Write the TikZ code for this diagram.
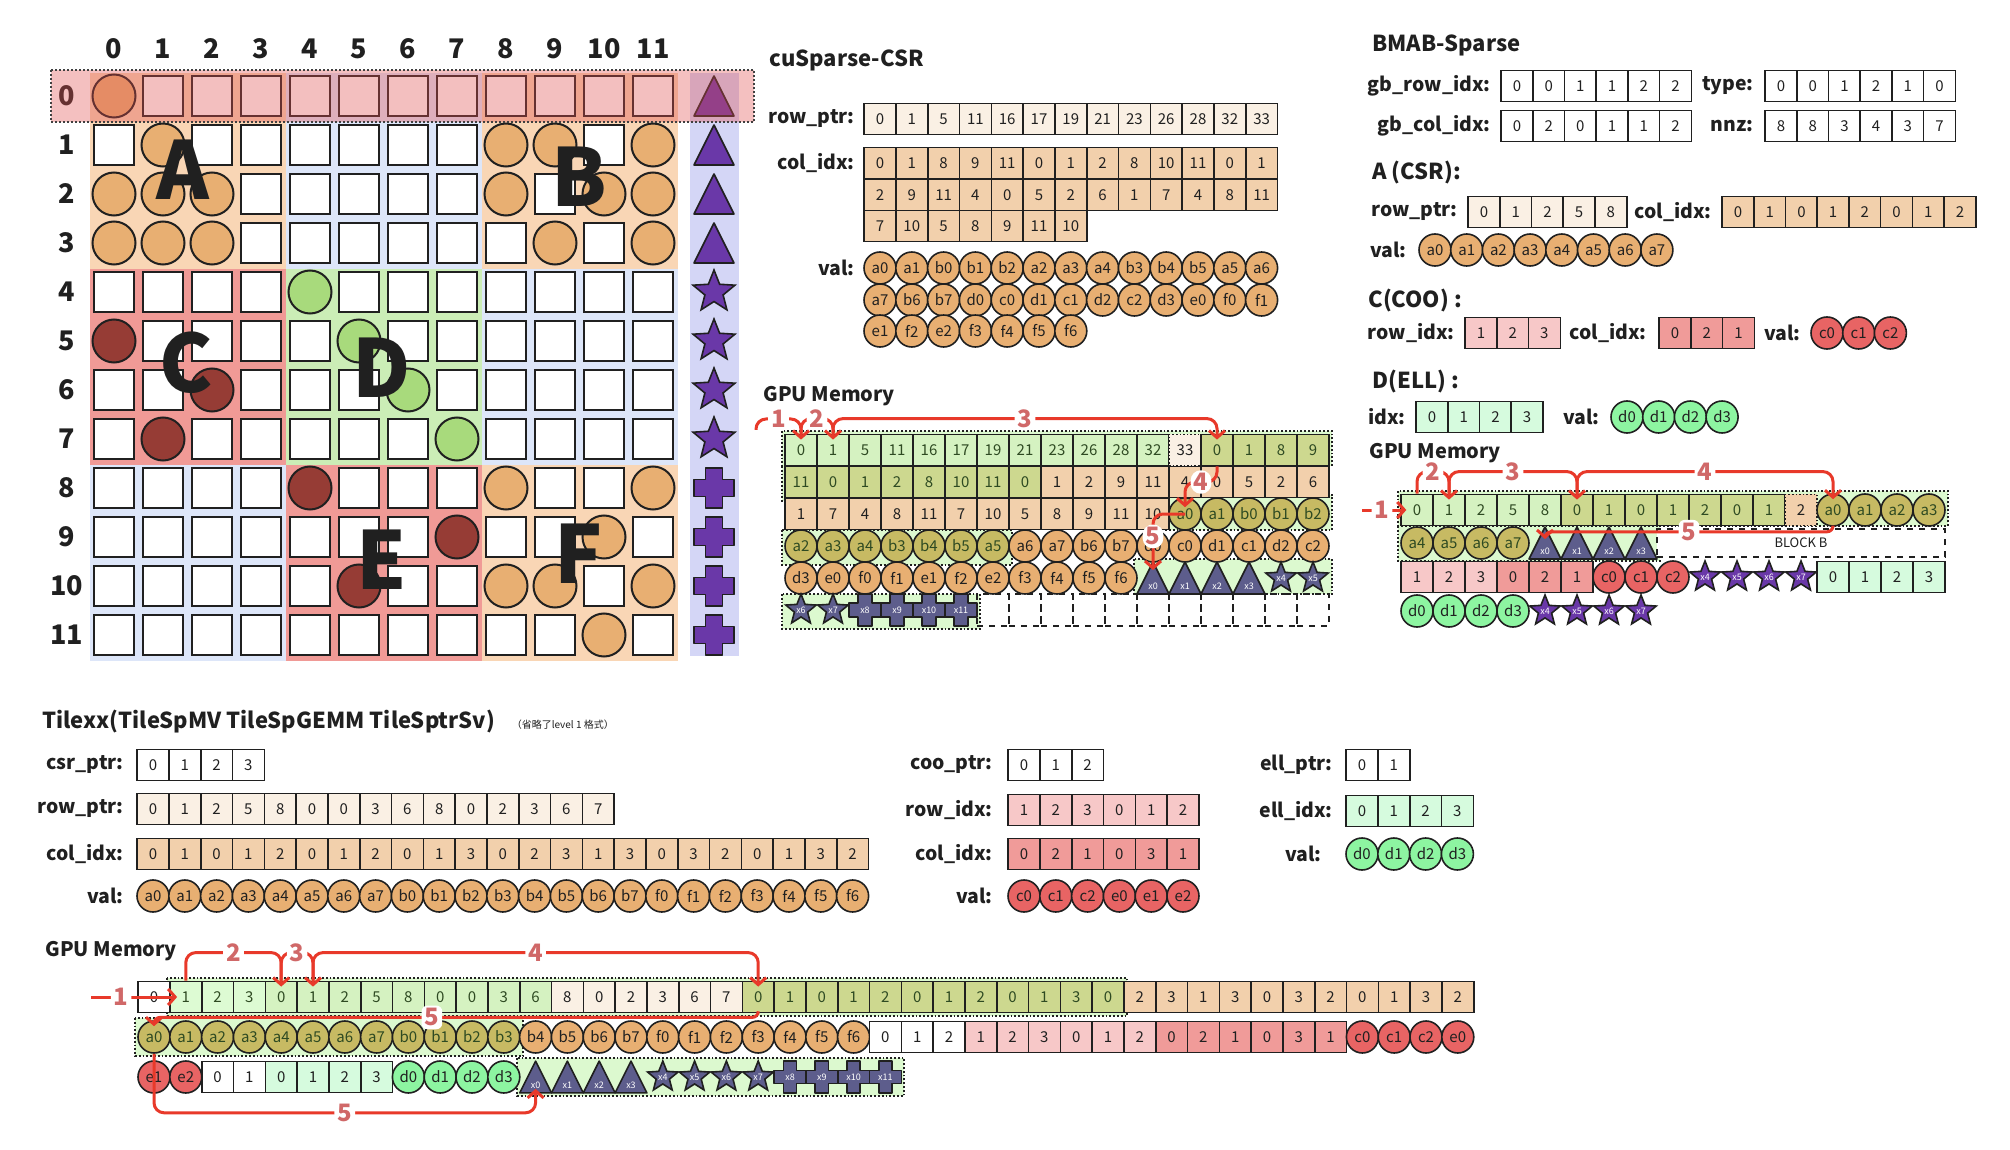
\documentclass[tikz,border=0pt]{standalone}
\usepackage{fontspec}
\setmainfont{Noto Sans CJK SC}
\usetikzlibrary{arrows.meta,positioning,shapes.geometric}
\definecolor{ink}{HTML}{202020}
\definecolor{olivetext}{HTML}{2E4A22}
\definecolor{peachbg}{HTML}{F9D6B5}
\definecolor{bluebg}{HTML}{DDE6F9}
\definecolor{redbg}{HTML}{F09A96}
\definecolor{greenbg}{HTML}{CBEDB6}
\definecolor{nzorange}{HTML}{E8AF72}
\definecolor{nzred}{HTML}{963C35}
\definecolor{nzgreen}{HTML}{A8DA7C}
\definecolor{stripbg}{HTML}{D4D6F6}
\definecolor{xpurple}{HTML}{6A38A8}
\definecolor{xslate}{HTML}{5D5D8C}
\definecolor{rowred}{HTML}{E05050}
\definecolor{ptrcell}{HTML}{FAF0E4}
\definecolor{idxcell}{HTML}{F2D0AC}
\definecolor{lgcell}{HTML}{D5F2C1}
\definecolor{mintcell}{HTML}{DDFBD3}
\definecolor{olcell}{HTML}{CDD88F}
\definecolor{olcirc}{HTML}{C7BA63}
\definecolor{hlbg}{HTML}{DCF9CF}
\definecolor{cooidx}{HTML}{F7C8C8}
\definecolor{coocol}{HTML}{F09B99}
\definecolor{coonzc}{HTML}{E86464}
\definecolor{ellidx}{HTML}{D6FBDE}
\definecolor{ellnzc}{HTML}{8DF5A1}
\definecolor{arrowred}{HTML}{E8392A}
\definecolor{stepred}{HTML}{D06868}

\newcommand{\cellfont}{\fontsize{7.5}{9}\selectfont}
\newcommand{\lblfont}{\bfseries\fontsize{9.7}{11}\selectfont}
\newcommand{\ttlfont}{\bfseries\fontsize{11}{13}\selectfont}
\newcommand{\memfont}{\bfseries\fontsize{10}{12}\selectfont}
\newcommand{\tinyfont}{\fontsize{4.5}{5}\selectfont}

% one run of memory cells: name, x of index 0, first index, y, style, entries
\newcommand{\seg}[6]{%
  \foreach \v [count=\k from #3] in {#6}
    \node[#5] (#1-\k) at ({#2+\k*\pitch},#4) {\v};}
% triangle / plus marks of the x vector: name, x, y, half size, fill, label
\newcommand{\xtri}[6]{%
  \coordinate (#1-top) at ({#2},{#3-#4});
  \coordinate (#1-bot) at ({#2},{#3+#4});
  \draw[xedge, fill=#5] ({#2-#4},{#3+#4}) -- (#1-top) -- ({#2+#4},{#3+#4}) -- cycle;
  \node[xlbl] (#1) at ({#2},{#3+0.5*#4}) {#6};}
\newcommand{\xplus}[6]{%
  \draw[xedge, fill=#5] ({#2-0.42*#4},{#3-#4}) -- ({#2+0.42*#4},{#3-#4}) -- ({#2+0.42*#4},{#3-0.42*#4})
    -- ({#2+#4},{#3-0.42*#4}) -- ({#2+#4},{#3+0.42*#4}) -- ({#2+0.42*#4},{#3+0.42*#4})
    -- ({#2+0.42*#4},{#3+#4}) -- ({#2-0.42*#4},{#3+#4}) -- ({#2-0.42*#4},{#3+0.42*#4})
    -- ({#2-#4},{#3+0.42*#4}) -- ({#2-#4},{#3-0.42*#4}) -- ({#2-0.42*#4},{#3-0.42*#4}) -- cycle;
  \node[xlbl] (#1) at ({#2},{#3}) {#6};}

\begin{document}
\begin{tikzpicture}[x=0.5pt, y=-0.5pt,
  every node/.style={inner sep=0pt},
  lbl/.style={anchor=east, font=\lblfont, text=ink},
  ttl/.style={anchor=west, font=\ttlfont, text=ink},
  memttl/.style={anchor=west, font=\memfont, text=ink},
  cellbox/.style={draw=ink, line width=0.8pt, fill=white, minimum width=15.9pt, minimum height=15.6pt, font=\cellfont, text=ink},
  ptr/.style={cellbox, fill=ptrcell},
  idx/.style={cellbox, fill=idxcell},
  lg/.style={cellbox, fill=lgcell, text=olivetext},
  mint/.style={cellbox, fill=mintcell, text=olivetext},
  ol/.style={cellbox, fill=olcell, text=olivetext},
  cooi/.style={cellbox, fill=cooidx},
  cooc/.style={cellbox, fill=coocol},
  elli/.style={cellbox, fill=ellidx},
  nz/.style={circle, draw=ink, line width=0.8pt, fill=nzorange, minimum size=16pt, font=\cellfont, text=ink},
  olnz/.style={nz, fill=olcirc, text=olivetext},
  coonz/.style={nz, fill=coonzc},
  ellnz/.style={nz, fill=ellnzc},
  emptycell/.style={draw=ink, dashed, line width=0.8pt, minimum width=16pt, minimum height=16pt},
  blockb/.style={draw=ink, dashed, line width=0.8pt, fill=white, minimum width=144pt, minimum height=14pt, font=\fontsize{6.5}{7}\selectfont, text=ink},
  hlzone/.style={draw=ink, densely dotted, line width=0.9pt, fill=hlbg},
  xedge/.style={draw=ink, line width=0.8pt, line join=round},
  xlbl/.style={text=white, font=\tinyfont},
  xstar/.style={star, star points=5, star point ratio=2.3, draw=ink, line width=0.8pt, minimum size=16pt, text=white, font=\tinyfont},
  mc-0/.style={draw=ink, line width=1pt, fill=white, minimum size=20pt},
  mc-o/.style={circle, draw=ink, line width=1pt, fill=nzorange, minimum size=21.5pt},
  mc-s/.style={mc-o},
  mc-r/.style={mc-o, fill=nzred},
  mc-g/.style={mc-o, fill=nzgreen},
  hdr/.style={font=\bfseries\fontsize{13.5}{15}\selectfont, text=ink},
  bigl/.style={font=\bfseries\fontsize{40}{42}\selectfont, text=ink},
  redarr/.style={draw=arrowred, line width=1.5pt, rounded corners=5pt, -{Straight Barb[length=3.5pt,width=8pt]}},
  stepnum/.style={fill=white, text=stepred, font=\bfseries\fontsize{12}{13}\selectfont, inner sep=1.5pt}
]
\useasboundingbox (0,0) rectangle (2010,1150);

% ---- the 12x12 matrix
\foreach \I/\J/\col in {0/0/peachbg,0/1/bluebg,0/2/peachbg,1/0/redbg,1/1/greenbg,1/2/bluebg,2/0/bluebg,2/1/redbg,2/2/peachbg}
  \fill[\col] ({90+196*\J},{73+196*\I}) rectangle ++(196,196);
\fill[stripbg] (690,73) rectangle (739,656);
\foreach \j in {0,...,11}
  \node[hdr] (c-\j) at ({114+49*\j},49) {\j};
\foreach \i/\codes in {0/{s,0,0,0,0,0,0,0,0,0,0,0}, 1/{0,o,0,0,0,0,0,0,o,o,0,o}, 2/{o,o,o,0,0,0,0,0,o,0,o,o},
    3/{o,o,o,0,0,0,0,0,0,o,0,o}, 4/{0,0,0,0,g,0,0,0,0,0,0,0}, 5/{r,0,0,0,0,g,0,0,0,0,0,0},
    6/{0,0,r,0,0,0,g,0,0,0,0,0}, 7/{0,r,0,0,0,0,0,g,0,0,0,0}, 8/{0,0,0,0,r,0,0,0,o,0,0,o},
    9/{0,0,0,0,0,0,0,r,0,0,o,0}, 10/{0,0,0,0,0,r,0,0,o,o,0,o}, 11/{0,0,0,0,0,0,0,0,0,0,o,0}}{
  \node[hdr] (r-\i) at (67,{96+49*\i}) {\i};
  \foreach \c [count=\j from 0] in \codes
    \node[mc-\c] (m-\i-\j) at ({114+49*\j},{96+49*\i}) {};
}
\node[bigl] (lA) at (183,170) {A};
\node[bigl] (lB) at (579,177) {B};
\node[bigl] (lC) at (186,363) {C};
\node[bigl] (lD) at (382,368) {D};
\node[bigl] (lE) at (382,560) {E};
\node[bigl] (lF) at (579,554) {F};
\foreach \i in {0,...,3} {\xtri{sx-\i}{714}{96+49*\i}{20}{xpurple}{}}
\foreach \i in {4,...,7}
  \node[xstar, fill=xpurple, minimum size=22pt] (sx-\i) at (714,{96+49*\i}) {};
\foreach \i in {8,...,11} {\xplus{sx-\i}{714}{96+49*\i}{20}{xpurple}{}}
\draw[densely dotted, line width=1pt, draw=black!75, fill=rowred, fill opacity=0.36] (51,70) rectangle (754,122);

% ---- cuSparse-CSR
\def\pitch{31.8}
\node[ttl] (csrt) at (769,60) {cuSparse-CSR};
\node[lbl] (crl) at (855,119) {row\_ptr:};
\node[lbl] (ccl) at (855,163) {col\_idx:};
\node[lbl] (cvl) at (855,268) {val:};
\seg{cr}{880}{0}{119}{ptr}{0,1,5,11,16,17,19,21,23,26,28,32,33}
\seg{cc1}{880}{0}{163}{idx}{0,1,8,9,11,0,1,2,8,10,11,0,1}
\seg{cc2}{880}{0}{195}{idx}{2,9,11,4,0,5,2,6,1,7,4,8,11}
\seg{cc3}{880}{0}{226}{idx}{7,10,5,8,9,11,10}
\seg{cv1}{880}{0}{268}{nz}{a0,a1,b0,b1,b2,a2,a3,a4,b3,b4,b5,a5,a6}
\seg{cv2}{880}{0}{300}{nz}{a7,b6,b7,d0,c0,d1,c1,d2,c2,d3,e0,f0,f1}
\seg{cv3}{880}{0}{331}{nz}{e1,f2,e2,f3,f4,f5,f6}

% ---- cuSparse GPU memory
\def\pitch{32}
\node[memttl] (mmt) at (763,396) {GPU Memory};
\draw[hlzone] (782,431) rectangle (1332,466);
\draw[hlzone] (782,466) rectangle (1044,501);
\draw[hlzone] (1166,495) rectangle (1332,530);
\draw[hlzone] (782,530) rectangle (1012,565);
\draw[hlzone] (1134,559) rectangle (1332,594);
\draw[hlzone] (782,594) rectangle (980,629);
\seg{mm1}{801}{0}{450}{lg}{0,1,5,11,16,17,19,21,23,26,28,32}
\seg{mm1}{801}{12}{450}{ptr,densely dotted}{33}
\seg{mm1}{801}{13}{450}{ol}{0,1,8,9}
\seg{mm2}{801}{0}{482}{ol}{11,0,1,2,8,10,11,0}
\seg{mm2}{801}{8}{482}{idx}{1,2,9,11,4,0,5,2,6}
\seg{mm3}{801}{0}{514}{idx}{1,7,4,8,11,7,10,5,8,9,11,10}
\seg{mm3}{801}{12}{514}{olnz}{a0,a1,b0,b1,b2}
\seg{mm4}{801}{0}{546}{olnz}{a2,a3,a4,b3,b4,b5,a5}
\seg{mm4}{801}{7}{546}{nz}{a6,a7,b6,b7,d0,c0,d1,c1,d2,c2}
\seg{mm5}{801}{0}{578}{nz}{d3,e0,f0,f1,e1,f2,e2,f3,f4,f5,f6}
\foreach \v [count=\k from 11] in {x0,x1,x2,x3} {\xtri{mm5-\k}{801+\k*32}{578}{16}{xslate}{\v}}
\foreach \v [count=\k from 15] in {x4,x5}
  \node[xstar, fill=xslate] (mm5-\k) at ({801+\k*32},578) {\v};
\foreach \v [count=\k from 0] in {x6,x7}
  \node[xstar, fill=xslate] (mm6-\k) at ({801+\k*32},610) {\v};
\foreach \v [count=\k from 2] in {x8,x9,x10,x11} {\xplus{mm6-\k}{801+\k*32}{610}{16}{xslate}{\v}}
\foreach \k in {6,...,16}
  \node[emptycell] (mm6-\k) at ({801+\k*32},610) {};
\coordinate (mm-in) at (756,430);
\draw[redarr] (mm-in) -- ++(0,-11) -| node[stepnum, pos=0.25] {1} ([yshift=-3pt]mm1-0.north);
\draw[redarr] (mm1-0.north) -- ++(0,-15) -| node[stepnum, pos=0.25] {2} ([yshift=-3pt]mm1-1.north);
\draw[redarr] (mm1-1.north) -- ++(0,-15) -| node[stepnum, pos=0.25] {3} ([yshift=-3pt]mm1-13.north);
\draw[redarr] (mm1-13.south) -- (mm2-13.center) -| node[stepnum, pos=0.25] {4} ([yshift=-5pt]mm3-12.north);
\draw[redarr] (mm3-12.center) -| node[stepnum, pos=0.7] {5} ([yshift=-4pt]mm5-11-top);

% ---- BMAB-Sparse
\def\pitch{31.7}
\node[ttl] (bmt) at (1372,45) {BMAB-Sparse};
\node[lbl] (gbrl) at (1491,86) {gb\_row\_idx:};
\node[lbl] (gbcl) at (1491,126) {gb\_col\_idx:};
\node[lbl] (typl) at (1754,86) {type:};
\node[lbl] (nnzl) at (1754,126) {nnz:};
\seg{gbr}{1517}{0}{86}{cellbox}{0,0,1,1,2,2}
\seg{gbc}{1517}{0}{126}{cellbox}{0,2,0,1,1,2}
\seg{typ}{1781}{0}{86}{cellbox}{0,0,1,2,1,0}
\seg{nnz}{1781}{0}{126}{cellbox}{8,8,3,4,3,7}
\node[ttl] (at) at (1372,173) {A (CSR):};
\node[lbl] (arl) at (1458,212) {row\_ptr:};
\node[lbl] (acl) at (1712,212) {col\_idx:};
\node[lbl] (avl) at (1407,250) {val:};
\seg{ar}{1484}{0}{212}{ptr}{0,1,2,5,8}
\seg{ac}{1738}{0}{212}{idx}{0,1,0,1,2,0,1,2}
\seg{av}{1435}{0}{250}{nz}{a0,a1,a2,a3,a4,a5,a6,a7}
\node[ttl] (ct) at (1368,301) {C(COO) :};
\node[lbl] (crl2) at (1455,333) {row\_idx:};
\node[lbl] (ccl2) at (1647,333) {col\_idx:};
\node[lbl] (cvl2) at (1801,333) {val:};
\seg{cor}{1481}{0}{333}{cooi}{1,2,3}
\seg{coc}{1675}{0}{333}{cooc}{0,2,1}
\seg{cov}{1827}{0}{333}{coonz}{c0,c1,c2}
\node[ttl] (dt) at (1372,382) {D(ELL) :};
\node[lbl] (dil) at (1406,417) {idx:};
\node[lbl] (dvl) at (1600,417) {val:};
\seg{di}{1432}{0}{417}{elli}{0,1,2,3}
\seg{dv}{1627}{0}{417}{ellnz}{d0,d1,d2,d3}

% ---- BMAB GPU memory
\def\pitch{32}
\node[memttl] (rmt) at (1369,453) {GPU Memory};
\draw[hlzone] (1398,491) rectangle (1948,526);
\draw[hlzone] (1398,526) rectangle (1660,561);
\seg{rm1}{1417}{0}{510}{lg}{0,1,2,5,8}
\seg{rm1}{1417}{5}{510}{ol}{0,1,0,1,2,0,1}
\seg{rm1}{1417}{12}{510}{idx,densely dotted}{2}
\seg{rm1}{1417}{13}{510}{olnz}{a0,a1,a2,a3}
\seg{rm2}{1417}{0}{543}{olnz}{a4,a5,a6,a7}
\foreach \v [count=\k from 4] in {x0,x1,x2,x3} {\xtri{rm2-\k}{1417+\k*32}{543}{16}{xslate}{\v}}
\node[blockb] (rm2-blk) at (1801,543) {BLOCK B};
\seg{rm3}{1417}{0}{577}{cooi}{1,2,3}
\seg{rm3}{1417}{3}{577}{cooc}{0,2,1}
\seg{rm3}{1417}{6}{577}{coonz}{c0,c1,c2}
\foreach \v [count=\k from 9] in {x4,x5,x6,x7}
  \node[xstar, fill=xpurple] (rm3-\k) at ({1417+\k*32},577) {\v};
\seg{rm3}{1417}{13}{577}{elli}{0,1,2,3}
\seg{rm4}{1417}{0}{611}{ellnz}{d0,d1,d2,d3}
\foreach \v [count=\k from 4] in {x4,x5,x6,x7}
  \node[xstar, fill=xpurple] (rm4-\k) at ({1417+\k*32},611) {\v};
\coordinate (rm-in) at (1362,510);
\draw[redarr] (rm-in) -- node[stepnum, pos=0.45] {1} ([xshift=3pt]rm1-0.west);
\draw[redarr] (rm1-0.north) -- ++(0,-22) -| node[stepnum, pos=0.25] {2} ([yshift=-3pt]rm1-1.north);
\draw[redarr] (rm1-1.north) -- ++(0,-22) -| node[stepnum, pos=0.25] {3} ([yshift=-3pt]rm1-5.north);
\draw[redarr] (rm1-5.north) -- ++(0,-22) -| node[stepnum, pos=0.25] {4} ([yshift=-3pt]rm1-13.north);
\draw[redarr, rounded corners=3pt] (rm1-13.south) -- ++(0,5) -| node[stepnum, pos=0.25] {5} ([yshift=-6pt]rm2-4-top);

% ---- Tilexx
\def\pitch{31.8}
\node[ttl] (tt) at (42,722) {Tilexx(TileSpMV TileSpGEMM TileSptrSv)};
\node[anchor=base west, font=\fontsize{5}{6}\selectfont, text=ink] (tnote) at ([xshift=8pt]tt.base east) {（省略了level 1 格式）};
\node[lbl] (tcpl) at (124,765) {csr\_ptr:};
\node[lbl] (trpl) at (124,809) {row\_ptr:};
\node[lbl] (tcil) at (124,854) {col\_idx:};
\node[lbl] (tvl) at (124,896) {val:};
\seg{tcp}{153}{0}{765}{cellbox}{0,1,2,3}
\seg{trp}{153}{0}{809}{ptr}{0,1,2,5,8,0,0,3,6,8,0,2,3,6,7}
\seg{tci}{153}{0}{854}{idx}{0,1,0,1,2,0,1,2,0,1,3,0,2,3,1,3,0,3,2,0,1,3,2}
\seg{tv}{153}{0}{896}{nz}{a0,a1,a2,a3,a4,a5,a6,a7,b0,b1,b2,b3,b4,b5,b6,b7,f0,f1,f2,f3,f4,f5,f6}
\node[lbl] (topl) at (993,765) {coo\_ptr:};
\node[lbl] (tril) at (993,810) {row\_idx:};
\node[lbl] (tcol) at (993,854) {col\_idx:};
\node[lbl] (tcvl) at (993,896) {val:};
\seg{tco}{1024}{0}{765}{cellbox}{0,1,2}
\seg{tcr}{1024}{0}{810}{cooi}{1,2,3,0,1,2}
\seg{tcc}{1024}{0}{854}{cooc}{0,2,1,0,3,1}
\seg{tcv}{1024}{0}{896}{coonz}{c0,c1,c2,e0,e1,e2}
\node[lbl] (tepl) at (1333,765) {ell\_ptr:};
\node[lbl] (teil) at (1333,811) {ell\_idx:};
\node[lbl] (tevl) at (1322,854) {val:};
\seg{tep}{1362}{0}{765}{cellbox}{0,1}
\seg{tei}{1362}{0}{811}{elli}{0,1,2,3}
\seg{tev}{1362}{0}{854}{ellnz}{d0,d1,d2,d3}

% ---- Tilexx GPU memory
\node[memttl] (bmt2) at (45,951) {GPU Memory};
\draw[hlzone] (167,978) rectangle (1127,1016);
\draw[hlzone] (135,1018) rectangle (523,1056);
\draw[hlzone] (517,1058) rectangle (904,1096);
\seg{bm1}{154}{0}{997}{cellbox}{0}
\seg{bm1}{154}{1}{997}{mint}{1,2,3}
\seg{bm1}{154}{4}{997}{lg}{0,1,2,5,8,0,0,3,6}
\seg{bm1}{154}{13}{997}{ptr}{8,0,2,3,6,7}
\seg{bm1}{154}{19}{997}{ol}{0,1,0,1,2,0,1,2,0,1,3,0}
\seg{bm1}{154}{31}{997}{idx}{2,3,1,3,0,3,2,0,1,3,2}
\seg{bm2}{154}{0}{1037}{olnz}{a0,a1,a2,a3,a4,a5,a6,a7,b0,b1,b2,b3}
\seg{bm2}{154}{12}{1037}{nz}{b4,b5,b6,b7,f0,f1,f2,f3,f4,f5,f6}
\seg{bm2}{154}{23}{1037}{cellbox}{0,1,2}
\seg{bm2}{154}{26}{1037}{cooi}{1,2,3,0,1,2}
\seg{bm2}{154}{32}{1037}{cooc}{0,2,1,0,3,1}
\seg{bm2}{154}{38}{1037}{coonz}{c0,c1,c2,e0}
\seg{bm3}{154}{0}{1077}{coonz}{e1,e2}
\seg{bm3}{154}{2}{1077}{cellbox}{0,1}
\seg{bm3}{154}{4}{1077}{elli}{0,1,2,3}
\seg{bm3}{154}{8}{1077}{ellnz}{d0,d1,d2,d3}
\foreach \v [count=\k from 12] in {x0,x1,x2,x3} {\xtri{bm3-\k}{154+\k*31.8}{1077}{15.9}{xslate}{\v}}
\foreach \v [count=\k from 16] in {x4,x5,x6,x7}
  \node[xstar, fill=xslate] (bm3-\k) at ({154+\k*31.8},1077) {\v};
\foreach \v [count=\k from 20] in {x8,x9,x10,x11} {\xplus{bm3-\k}{154+\k*31.8}{1077}{15.9}{xslate}{\v}}
\coordinate (bm-in) at (91,997);
\draw[redarr] (bm-in) -- node[stepnum, pos=0.35] {1} ([xshift=4pt]bm1-1.west);
\draw[redarr] (bm1-1.north) -- ++(0,-28) -| node[stepnum, pos=0.25] {2} ([yshift=-3pt]bm1-4.north);
\draw[redarr] (bm1-4.north) -- ++(0,-28) -| node[stepnum, pos=0.25] {3} ([yshift=-3pt]bm1-5.north);
\draw[redarr] (bm1-5.north) -- ++(0,-28) -| node[stepnum, pos=0.25] {4} ([yshift=-3pt]bm1-19.north);
\draw[redarr, rounded corners=3pt] (bm1-19.south) -- ++(0,4) -| node[stepnum, pos=0.27] {5} ([yshift=-3pt]bm2-0.north);
\draw[redarr] (bm2-0.south) -- ++(0,59) -| node[stepnum, pos=0.25] {5} ([yshift=2pt]bm3-12-bot);
\end{tikzpicture}
\end{document}
